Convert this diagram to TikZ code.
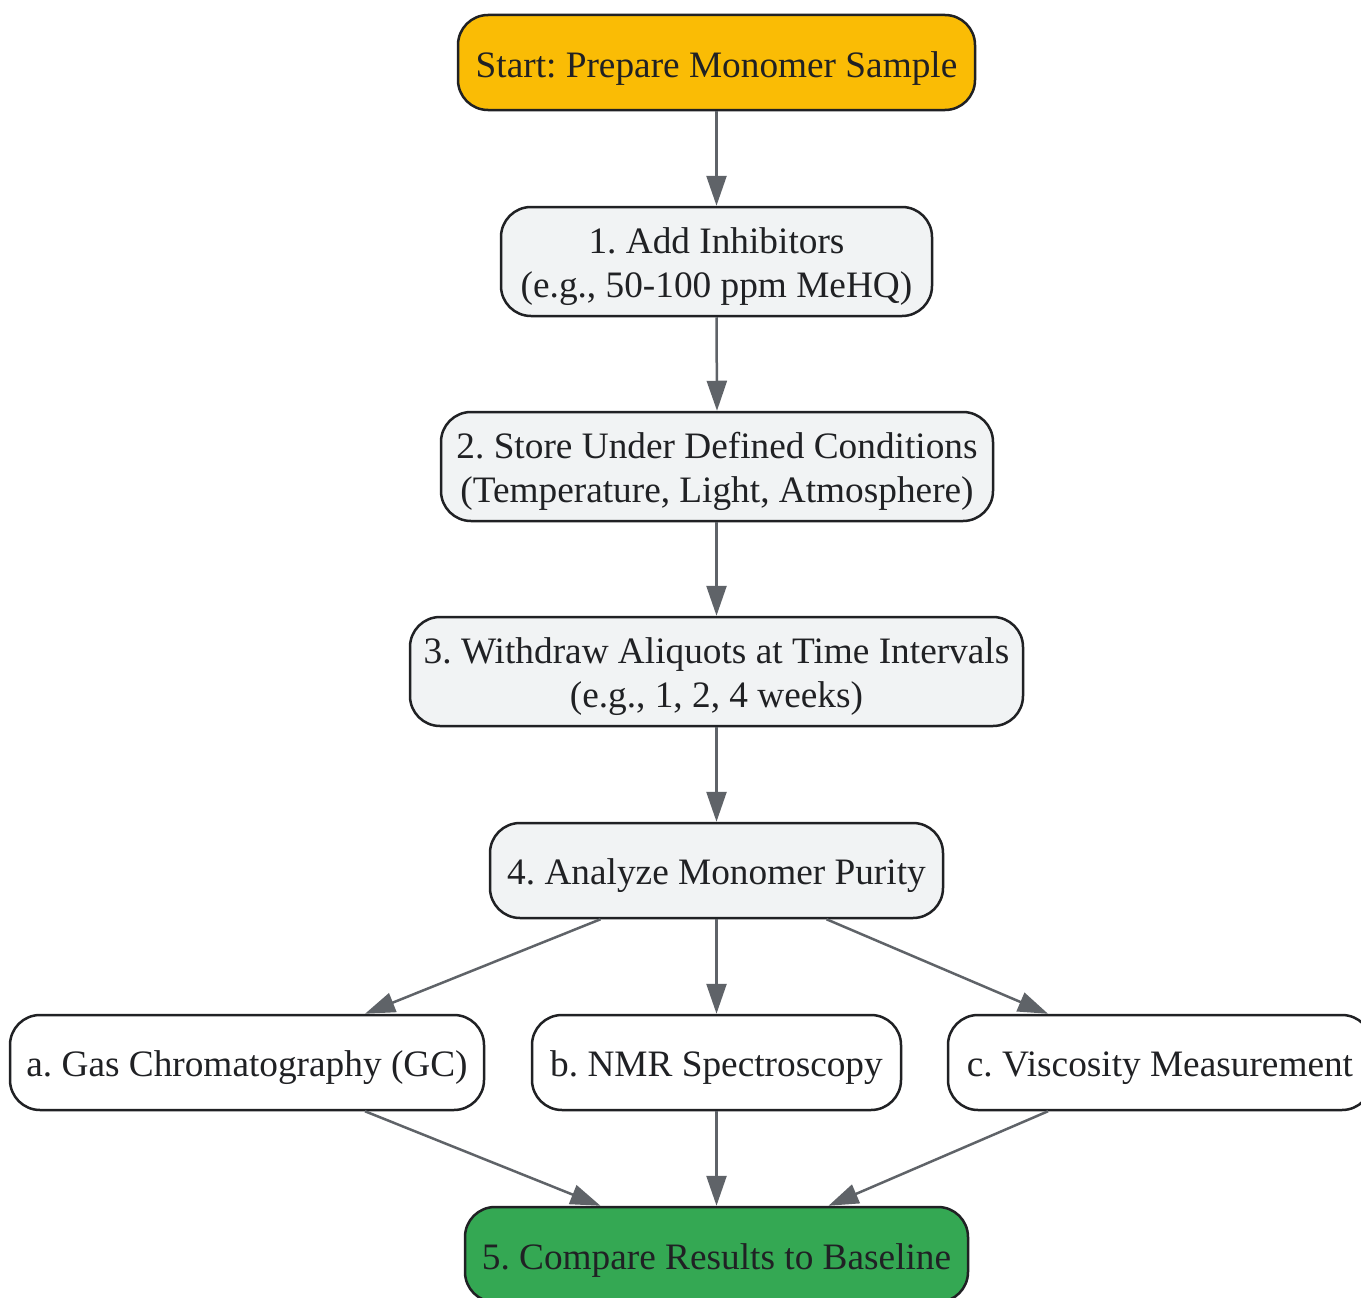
\documentclass[tikz,border=0pt]{standalone}
\usepackage{fontspec}
\setmainfont{Liberation Serif}
\usetikzlibrary{arrows.meta}
\frenchspacing
\definecolor{startfill}{HTML}{FABC05}
\definecolor{endfill}{HTML}{34A853}
\definecolor{stepfill}{HTML}{F1F3F4}
\definecolor{edgegray}{HTML}{5F6368}
\definecolor{borderdark}{HTML}{202124}
\newcommand{\upstrut}{\rule{0pt}{37pt}}
\tikzset{
  box/.style={draw=borderdark, line width=2.5pt, rounded corners=30pt, align=center,
    font=\fontsize{37.3}{44}\selectfont, text=borderdark, inner sep=0pt},
  conn/.style={draw=edgegray, line width=2.5pt, -{Triangle[length=30pt,width=20pt]}}
}
\begin{document}
\begin{tikzpicture}[x=1pt,y=-1pt]
\useasboundingbox (0,0) rectangle (1361,1298);
\clip (0,0) rectangle (1361,1298);
\fill[white] (0,0) rectangle (1361,1298);
\node[box, fill=startfill, minimum width=517pt, minimum height=95pt] (s) at (716.5,62.5) {\upstrut Start: Prepare Monomer Sample};
\node[box, fill=stepfill, minimum width=431pt, minimum height=109pt] (n1) at (716.5,261.5) {\upstrut 1. Add Inhibitors\\(e.g., 50-100 ppm MeHQ)};
\node[box, fill=stepfill, minimum width=552pt, minimum height=109pt] (n2) at (717,466.5) {\upstrut 2. Store Under Defined Conditions\\(Temperature, Light, Atmosphere)};
\node[box, fill=stepfill, minimum width=613pt, minimum height=109pt] (n3) at (716.5,671.5) {\upstrut 3. Withdraw Aliquots at Time Intervals\\(e.g., 1, 2, 4 weeks)};
\node[box, fill=stepfill, minimum width=453pt, minimum height=95pt] (n4) at (716.5,870.5) {\upstrut 4. Analyze Monomer Purity};
\node[box, fill=white, minimum width=474pt, minimum height=95pt] (na) at (247,1062.5) {\upstrut a. Gas Chromatography (GC)};
\node[box, fill=white, minimum width=369pt, minimum height=95pt] (nb) at (716.5,1062.5) {\upstrut b. NMR Spectroscopy};
\node[box, fill=white, minimum width=424pt, minimum height=95pt] (nc) at (1160,1062.5) {\upstrut c. Viscosity Measurement};
\node[box, fill=endfill, minimum width=503pt, minimum height=95pt] (n5) at (716.5,1254.5) {\upstrut 5. Compare Results to Baseline};
\draw[conn] (s.south) -- (n1.north);
\draw[conn] (n1.south) -- (n2.north);
\draw[conn] ([xshift=-0.5pt]n2.south) -- (n3.north);
\draw[conn] (n3.south) -- (n4.north);
\draw[conn] ([xshift=-116pt]n4.south) -- ([xshift=118pt]na.north);
\draw[conn] (n4.south) -- (nb.north);
\draw[conn] ([xshift=110pt]n4.south) -- ([xshift=-112pt]nc.north);
\draw[conn] ([xshift=118pt]na.south) -- ([xshift=-116pt]n5.north);
\draw[conn] (nb.south) -- (n5.north);
\draw[conn] ([xshift=-112pt]nc.south) -- ([xshift=112pt]n5.north);
\end{tikzpicture}
\end{document}
